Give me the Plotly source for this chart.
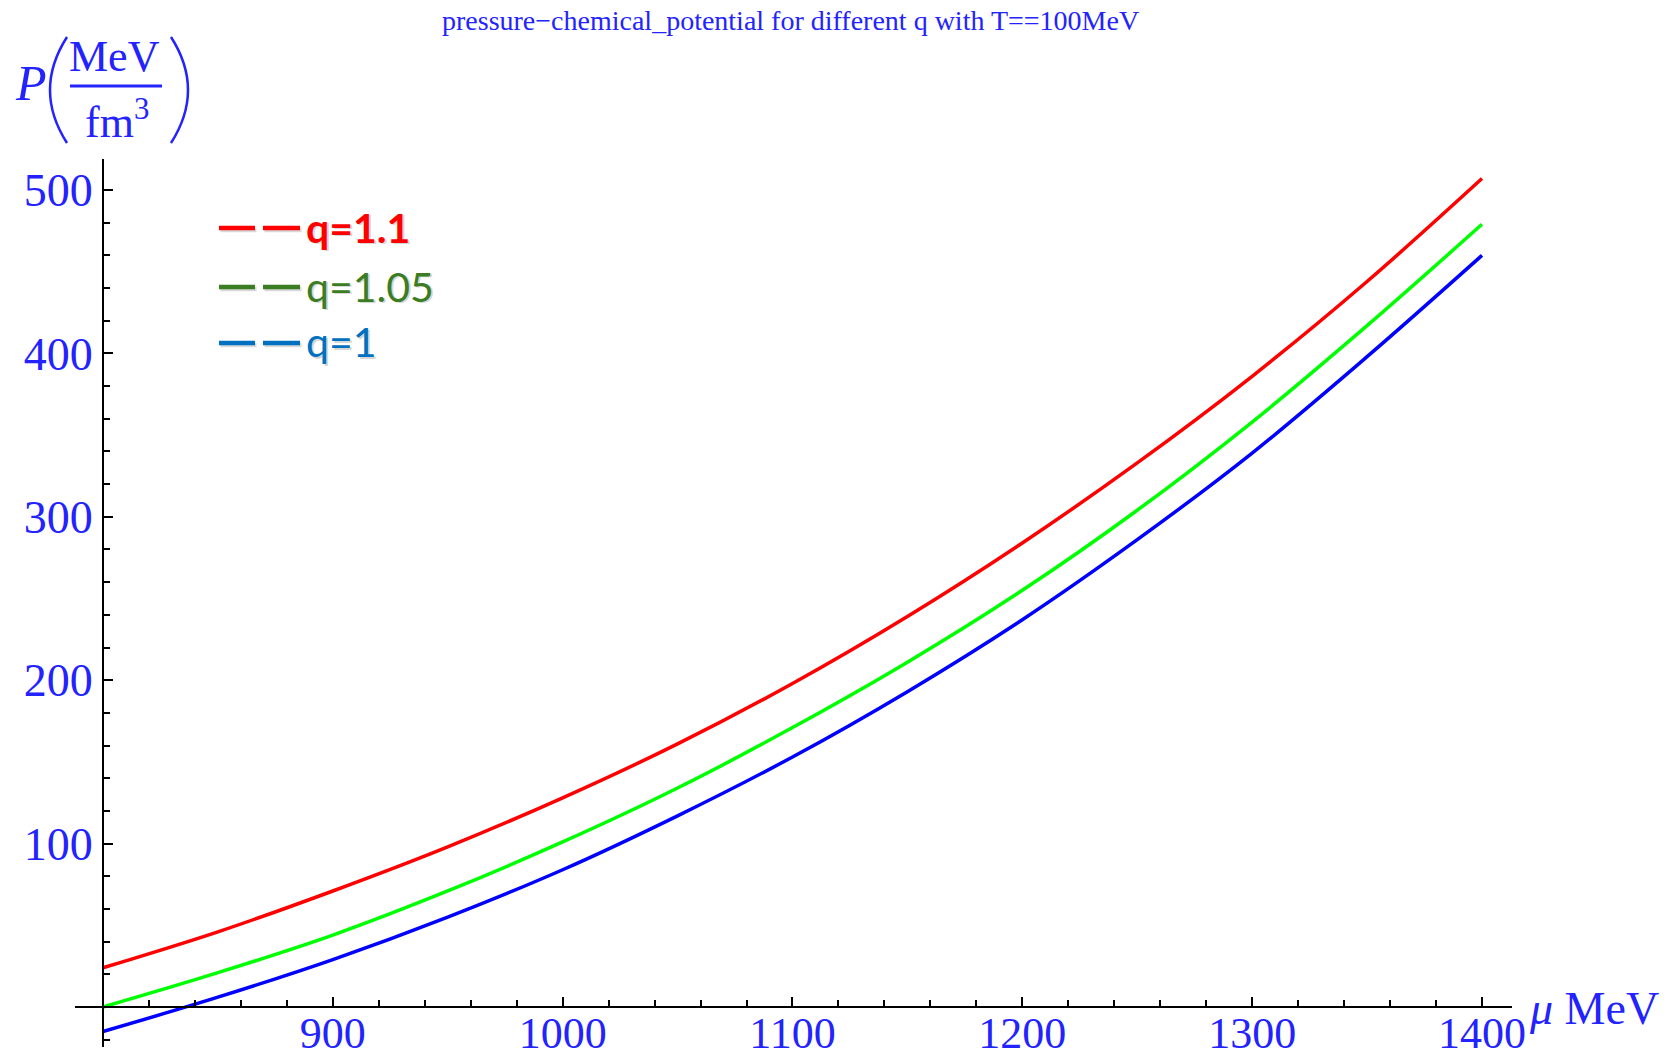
import plotly.graph_objects as go

# Chemical potential mu (MeV) and pressure P (MeV/fm^3) for each q at T = 100 MeV
mu = [800, 850, 900, 950, 1000, 1050, 1100, 1150, 1200, 1250, 1300, 1350, 1400]
p_q110 = [24, 46, 71, 98, 128, 161, 198, 239, 284, 333, 386, 444, 507]
p_q105 = [0, 21, 44, 71, 101, 134, 171, 211, 255, 304, 358, 417, 479]
p_q100 = [-15, 6, 29, 55, 84, 117, 153, 193, 237, 286, 339, 398, 460]

x_ticks = [900, 1000, 1100, 1200, 1300, 1400]
y_ticks = [100, 200, 300, 400, 500]

W, H = 1667, 1060
ML, MR, MT, MB = 75, 155, 159, 13
PW, PH = W - ML - MR, H - MT - MB
X_RANGE = [787.82, 1413.06]
Y_RANGE = [-24.48, 518.97]

BLUE_TXT = "#2323ff"
SERIF = "Liberation Serif"


def px(x):
    return (x - ML) / PW


def py(y):
    return (H - MB - y) / PH


fig = go.Figure()
for vals, col in [(p_q110, "#ff0000"), (p_q105, "#00ff00"), (p_q100, "#0000ff")]:
    fig.add_trace(go.Scatter(x=mu, y=vals, mode="lines",
                             line=dict(color=col, width=3.5, shape="spline"),
                             showlegend=False, hoverinfo="skip"))

# axes crossing at (800, 0)
x_pos = (0 - Y_RANGE[0]) / (Y_RANGE[1] - Y_RANGE[0])
y_pos = (800 - X_RANGE[0]) / (X_RANGE[1] - X_RANGE[0])

common = dict(showline=True, linecolor="black", linewidth=2,
              showgrid=False, zeroline=False, automargin=False,
              tickmode="array", ticks="inside", ticklen=9, tickwidth=2,
              tickcolor="black")
fig.update_xaxes(range=X_RANGE, anchor="free", position=x_pos, tickvals=x_ticks,
                 ticklabelstandoff=-13,
                 tickfont=dict(family=SERIF, size=44, color=BLUE_TXT),
                 minor=dict(tickmode="linear", tick0=800, dtick=20, ticks="inside",
                            ticklen=6, tickwidth=1.5, tickcolor="black", showgrid=False),
                 **common)
fig.update_yaxes(range=Y_RANGE, anchor="free", position=y_pos, tickvals=y_ticks,
                 tickfont=dict(family=SERIF, size=46, color=BLUE_TXT),
                 minor=dict(tickmode="linear", tick0=0, dtick=20, ticks="inside",
                            ticklen=6, tickwidth=1.5, tickcolor="black", showgrid=False),
                 **common)

ann = []
# title
ann.append(dict(x=px(790), y=py(21), xref="paper", yref="paper",
                text="pressure\u2212chemical_potential for different q with T==100MeV",
                showarrow=False, xanchor="center", yanchor="middle",
                font=dict(family=SERIF, size=28, color=BLUE_TXT)))
# x-axis label
ann.append(dict(x=px(1527), y=py(1008), xref="paper", yref="paper",
                text="<i>\u03bc</i> MeV", showarrow=False,
                xanchor="left", yanchor="middle",
                font=dict(family=SERIF, size=46, color=BLUE_TXT)))
# y-axis label: P (MeV / fm^3)
ann.append(dict(x=px(31), y=py(83), xref="paper", yref="paper",
                text="<i>P</i>", showarrow=False, xanchor="center", yanchor="middle",
                font=dict(family=SERIF, size=50, color=BLUE_TXT)))
ann.append(dict(x=px(114), y=py(57), xref="paper", yref="paper",
                text="MeV", showarrow=False, xanchor="center", yanchor="middle",
                font=dict(family=SERIF, size=44, color=BLUE_TXT)))
ann.append(dict(x=px(117), y=py(119), xref="paper", yref="paper",
                text="fm<sup>3</sup>", showarrow=False, xanchor="center", yanchor="middle",
                font=dict(family=SERIF, size=44, color=BLUE_TXT)))

shapes = [
    # fraction bar
    dict(type="line", xref="paper", yref="paper",
         x0=px(70), x1=px(162), y0=py(86), y1=py(86),
         line=dict(color=BLUE_TXT, width=3)),
    # parentheses
    dict(type="path", xref="paper", yref="paper",
         path=f"M {px(67)},{py(37)} Q {px(33)},{py(90)} {px(67)},{py(143)}",
         line=dict(color=BLUE_TXT, width=2.5)),
    dict(type="path", xref="paper", yref="paper",
         path=f"M {px(171)},{py(37)} Q {px(205)},{py(90)} {px(171)},{py(143)}",
         line=dict(color=BLUE_TXT, width=2.5)),
]

# legend: two short dashes and a label per curve
legend_items = [("q=1.1", "#ff0000", True, 228),
                ("q=1.05", "#3a7d22", False, 287),
                ("q=1", "#0070c0", False, 343)]
for label, col, bold, yc in legend_items:
    for xa, xb in [(219, 255), (263, 300)]:
        shapes.append(dict(type="line", xref="paper", yref="paper",
                           x0=px(xa + 1.5), x1=px(xb + 1.5), y0=py(yc + 2), y1=py(yc + 2),
                           line=dict(color="rgba(0,0,0,0.15)", width=4.5)))
        shapes.append(dict(type="line", xref="paper", yref="paper",
                           x0=px(xa), x1=px(xb), y0=py(yc), y1=py(yc),
                           line=dict(color=col, width=4.5)))
    txt = f"<b>{label}</b>" if bold else label
    ann.append(dict(x=px(305.5), y=py(yc + 0.5), xref="paper", yref="paper",
                    text=txt, showarrow=False, xanchor="left", yanchor="middle",
                    font=dict(family="Lato", size=41, color="rgba(0,0,0,0.16)")))
    ann.append(dict(x=px(304), y=py(yc - 1), xref="paper", yref="paper",
                    text=txt, showarrow=False, xanchor="left", yanchor="middle",
                    font=dict(family="Lato", size=41, color=col)))

fig.update_layout(width=W, height=H,
                  margin=dict(l=ML, r=MR, t=MT, b=MB),
                  paper_bgcolor="white", plot_bgcolor="white",
                  annotations=ann, shapes=shapes, showlegend=False)

fig.write_html("out.html")
